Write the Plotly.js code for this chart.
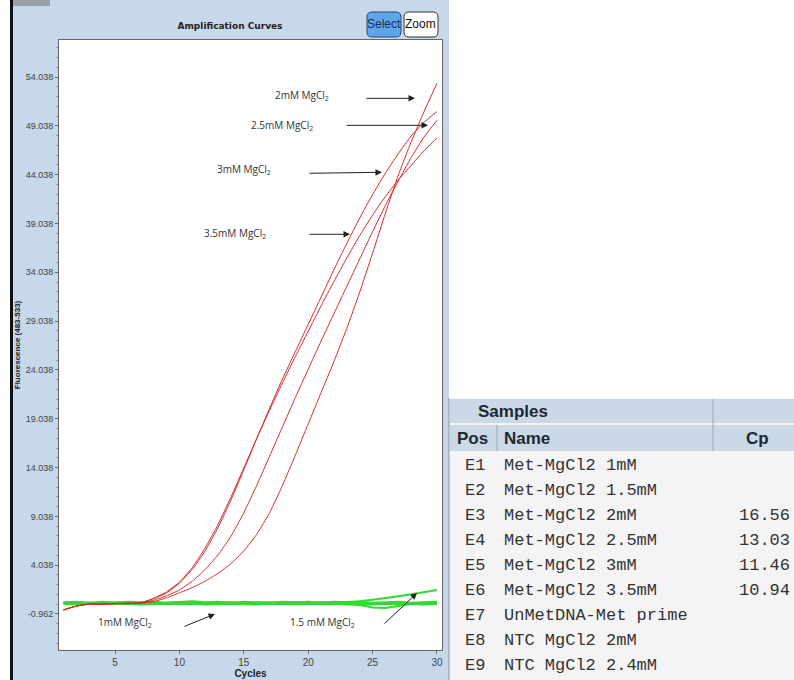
<!DOCTYPE html>
<html><head><meta charset="utf-8">
<script src="https://cdn.plot.ly/plotly-3.0.1.min.js"></script>
<style>html,body{margin:0;padding:0;background:#fff}#chart{width:794px;height:680px}</style>
</head><body><div id="chart"></div>
<script>
// ---------- data ----------
const cycles = [1,2,3,4,5,6,7,8,9,10,11,12,13,14,15,16,17,18,19,20,21,22,23,24,25,26,27,28,29,30];
const red2mM  = [-0.55,-0.15,0.05,0.05,0.1,0.1,0.15,0.3,0.7,1.2,1.75,2.4,3.2,4.2,5.5,7.2,9.4,12.2,15.3,18.5,21.7,24.9,28.3,32.0,36.0,40.1,44.0,47.4,50.5,53.4];
const red25mM = [-0.55,-0.15,0.05,0.05,0.1,0.1,0.15,0.45,0.9,1.5,2.4,3.6,5.1,7.0,9.4,12.2,15.2,18.2,21.2,24.1,27.0,29.8,32.6,35.4,38.2,40.9,43.4,45.8,47.9,49.6];
const red3mM  = [-0.55,-0.15,0.05,0.05,0.1,0.15,0.2,0.6,1.2,2.2,3.6,5.5,7.9,10.7,13.8,17.0,20.1,23.1,25.9,28.7,31.5,34.3,37.0,39.6,42.0,44.2,46.2,48.0,49.4,50.5];
const red35mM = [-0.55,-0.15,0.05,0.05,0.1,0.15,0.2,0.65,1.3,2.3,3.8,5.8,8.2,11.0,14.0,17.0,19.9,22.7,25.4,28.0,30.6,33.1,35.5,37.8,39.9,41.8,43.5,45.0,46.5,47.8];
const grn1mM  = [0.15,0.2,0.1,0.15,0.25,0.2,0.1,0.15,0.2,0.25,0.2,0.15,0.1,0.2,0.15,0.2,0.25,0.2,0.15,0.1,0.2,0.25,0.2,0.15,0.1,0.05,0.1,0.15,0.2,0.15];
const grn15mM = [0.1,0.15,0.2,0.1,0.15,0.25,0.2,0.1,0.15,0.2,0.1,0.2,0.25,0.15,0.2,0.1,0.15,0.2,0.25,0.2,0.25,0.2,0.25,0.35,0.5,0.65,0.85,1.05,1.3,1.5];
const grnUnMet = [0.2,0.1,0.15,0.2,0.1,0.05,0.1,0.2,0.15,0.1,0.2,0.15,0.2,0.25,0.1,0.15,0.2,0.1,0.15,0.2,0.15,0.1,0.05,-0.05,-0.3,-0.35,-0.15,0.05,0.1,0.1];
const grnNTC2  = [0.05,0.1,0.05,0.1,0.15,0.1,0.0,0.05,0.1,0.05,0.1,0.0,0.05,0.1,0.05,0.0,0.1,0.05,0.1,0.05,0.1,0.05,0.1,0.05,0.0,0.05,0.1,0.05,0.0,0.05];
const grnNTC24 = [0.25,0.3,0.2,0.3,0.2,0.3,0.25,0.3,0.2,0.3,0.35,0.25,0.3,0.2,0.3,0.25,0.2,0.3,0.25,0.3,0.2,0.3,0.25,0.3,0.2,0.25,0.3,0.2,0.25,0.3];

const xTickVals = [5,10,15,20,25,30];
const yTickVals = [-0.962,4.038,9.038,14.038,19.038,24.038,29.038,34.038,39.038,44.038,49.038,54.038];
const yTickText = ["-0.962","4.038","9.038","14.038","19.038","24.038","29.038","34.038","39.038","44.038","49.038","54.038"];

const samplePos   = ["E1","E2","E3","E4","E5","E6","E7","E8","E9"];
const sampleNames = ["Met-MgCl2 1mM","Met-MgCl2 1.5mM","Met-MgCl2 2mM","Met-MgCl2 2.5mM","Met-MgCl2 3mM","Met-MgCl2 3.5mM","UnMetDNA-Met prime","NTC MgCl2 2mM","NTC MgCl2 2.4mM"];
const sampleCp    = ["","","16.56","13.03","11.46","10.94","","",""];

const curveLabels = ["2mM MgCl<sub>2</sub>","2.5mM MgCl<sub>2</sub>","3mM MgCl<sub>2</sub>","3.5mM MgCl<sub>2</sub>","1mM MgCl<sub>2</sub>","1.5 mM MgCl<sub>2</sub>"];

// ---------- geometry helpers (pixel -> paper) ----------
const W = 794, H = 680;
const PX = x => x / W;
const PY = y => 1 - y / H;
// pixel -> data for annotation placement
const C = px => 5 + (px - 115) / 12.88;
const V = py => -0.962 + (614 - py) / 9.77;

const RED = '#d92b2b', GREEN = '#2fdc2f';
const traces = [];
[grn1mM, grn15mM, grnUnMet, grnNTC2, grnNTC24].forEach(ys => {
  traces.push({x: cycles, y: ys, type: 'scatter', mode: 'lines', line: {color: GREEN, width: 2}, hoverinfo: 'skip'});
});
[red2mM, red25mM, red3mM, red35mM].forEach(ys => {
  traces.push({x: cycles, y: ys, type: 'scatter', mode: 'lines', line: {color: RED, width: 1, shape: 'spline', smoothing: 0.5}, hoverinfo: 'skip'});
});

function rect(x0, y0, x1, y1, fill, line) {
  return {type: 'rect', xref: 'paper', yref: 'paper', x0: PX(x0), x1: PX(x1), y0: PY(y1), y1: PY(y0),
    fillcolor: fill, line: line || {width: 0}, layer: 'below'};
}
function vline(x, y0, y1, color) {
  return {type: 'line', xref: 'paper', yref: 'paper', x0: PX(x), x1: PX(x), y0: PY(y0), y1: PY(y1), line: {color: color, width: 1}};
}
function rrect(x0, y0, x1, y1, r, fill, lc) {
  const p = (x, y) => PX(x) + ',' + PY(y);
  const path = 'M' + p(x0 + r, y0) + ' L' + p(x1 - r, y0) + ' Q' + p(x1, y0) + ' ' + p(x1, y0 + r) +
    ' L' + p(x1, y1 - r) + ' Q' + p(x1, y1) + ' ' + p(x1 - r, y1) + ' L' + p(x0 + r, y1) +
    ' Q' + p(x0, y1) + ' ' + p(x0, y1 - r) + ' L' + p(x0, y0 + r) + ' Q' + p(x0, y0) + ' ' + p(x0 + r, y0) + ' Z';
  return {type: 'path', xref: 'paper', yref: 'paper', path: path, fillcolor: fill, line: {color: lc, width: 1}};
}

const shapes = [
  rect(0, 0, 10, 680, '#ffffff'),
  rect(10, 0, 13, 680, '#111111'),
  rect(13, 0, 50, 6, '#9aa3ad'),
  rect(449, 0, 794, 398, '#ffffff'),
  rect(449, 398, 794, 680, '#f4f4f4'),
  rect(450, 399, 794, 423, '#cbd9e7'),
  rect(450, 425, 794, 451, '#cbd9e7'),
  vline(713, 399, 451, '#9aa8b6'),
  vline(497, 425, 451, '#9aa8b6'),
  vline(449, 398, 680, '#8a96a2'),
  rrect(367, 12, 401, 37, 5, '#5ea6ea', '#2b4a6c'),
  rrect(404, 12, 438, 37, 5, '#ffffff', '#333333')
];

const annFont = {family: 'Open Sans, Liberation Sans, sans-serif', size: 10, color: '#333'};
const annotations = [];
// curve labels
const labelPos = [[302,95],[282,125],[244,169],[235,233],[125,623],[323,623]];
curveLabels.forEach((t, i) => {
  annotations.push({xref: 'x', yref: 'y', x: C(labelPos[i][0]), y: V(labelPos[i][1]), text: t, showarrow: false, font: annFont, xanchor: 'center', yanchor: 'middle'});
});
// arrows [tailX, tailY, headX, headY] in pixels
const arrows = [[365,98,415,98],[345,125,428,125],[308,173,382,172],[308,234,350,234],[183,627,215,614],[383,625,417,593]];
arrows.forEach(a => {
  annotations.push({xref: 'x', yref: 'y', axref: 'x', ayref: 'y', x: C(a[2]), y: V(a[3]), ax: C(a[0]), ay: V(a[1]),
    text: '', showarrow: true, arrowhead: 2, arrowsize: 1.3, arrowwidth: 1, arrowcolor: '#222'});
});
// buttons
const btnFont = {family: 'Liberation Sans Narrow, Arial Narrow, Liberation Sans, sans-serif', size: 12};
annotations.push({xref: 'paper', yref: 'paper', x: PX(384), y: PY(24.5), xanchor: 'center', yanchor: 'middle', text: 'Select', showarrow: false,
  font: Object.assign({color: '#1b2c5c'}, btnFont)});
annotations.push({xref: 'paper', yref: 'paper', x: PX(421), y: PY(24.5), xanchor: 'center', yanchor: 'middle', text: 'Zoom', showarrow: false,
  font: Object.assign({color: '#111'}, btnFont)});
// table headers
const hdrFont = {family: 'Liberation Sans, Arial, sans-serif', size: 17, color: '#1e2833', weight: 'bold'};
annotations.push({xref: 'paper', yref: 'paper', x: PX(513), y: PY(411), text: 'Samples', showarrow: false, font: hdrFont, xanchor: 'center', yanchor: 'middle'});
annotations.push({xref: 'paper', yref: 'paper', x: PX(455), y: PY(438), text: 'Pos', showarrow: false, font: hdrFont, xanchor: 'left', yanchor: 'middle'});
annotations.push({xref: 'paper', yref: 'paper', x: PX(502), y: PY(438), text: 'Name', showarrow: false, font: hdrFont, xanchor: 'left', yanchor: 'middle'});
annotations.push({xref: 'paper', yref: 'paper', x: PX(757), y: PY(438), text: 'Cp', showarrow: false, font: hdrFont, xanchor: 'center', yanchor: 'middle'});
// table rows
const rowFont = {family: 'Liberation Mono, Courier New, monospace', size: 17, color: '#333'};
samplePos.forEach((p, i) => {
  const yy = PY(465 + i * 25);
  annotations.push({xref: 'paper', yref: 'paper', x: PX(463), y: yy, text: p, showarrow: false, font: rowFont, xanchor: 'left', yanchor: 'middle'});
  annotations.push({xref: 'paper', yref: 'paper', x: PX(502), y: yy, text: sampleNames[i], showarrow: false, font: rowFont, xanchor: 'left', yanchor: 'middle'});
  if (sampleCp[i]) annotations.push({xref: 'paper', yref: 'paper', x: PX(792), y: yy, text: sampleCp[i], showarrow: false, font: rowFont, xanchor: 'right', yanchor: 'middle'});
});

const layout = {
  width: W, height: H,
  margin: {l: 0, r: 0, t: 0, b: 0},
  paper_bgcolor: '#c6d8ea', plot_bgcolor: '#ffffff',
  showlegend: false,
  font: {family: 'Liberation Sans, Arial, sans-serif', color: '#333'},
  title: {text: 'Amplification Curves', x: PX(230), xanchor: 'center', y: PY(26), yanchor: 'middle',
    font: {family: 'DejaVu Sans, Verdana, sans-serif', size: 9, color: '#222', weight: 'bold'}},
  xaxis: {domain: [PX(59), PX(442)], range: [0.65, 30.39], tickvals: xTickVals, ticks: 'outside', ticklen: 3,
    tickcolor: '#666', showline: true, linecolor: '#666', mirror: true, showgrid: false, zeroline: false,
    tickfont: {size: 10, color: '#444'},
    title: {text: 'Cycles', standoff: 2, font: {size: 10, color: '#222', weight: 'bold'}}},
  yaxis: {domain: [1 - 650 / H, 1 - 40 / H], range: [-4.65, 57.83], tickvals: yTickVals, ticktext: yTickText,
    ticks: 'outside', ticklen: 3, tickcolor: '#666', showline: true, linecolor: '#666', mirror: true,
    showgrid: false, zeroline: false, tickfont: {size: 9, color: '#444'},
    minor: {tick0: -0.962, dtick: 1, ticks: 'outside', ticklen: 2, tickcolor: '#999', showgrid: false},
    title: {text: 'Fluorescence (483-533)', standoff: 3, font: {size: 8, color: '#222', weight: 'bold'}}},
  shapes: shapes,
  annotations: annotations
};
Plotly.newPlot('chart', traces, layout, {displayModeBar: false, staticPlot: true});
</script></body></html>
